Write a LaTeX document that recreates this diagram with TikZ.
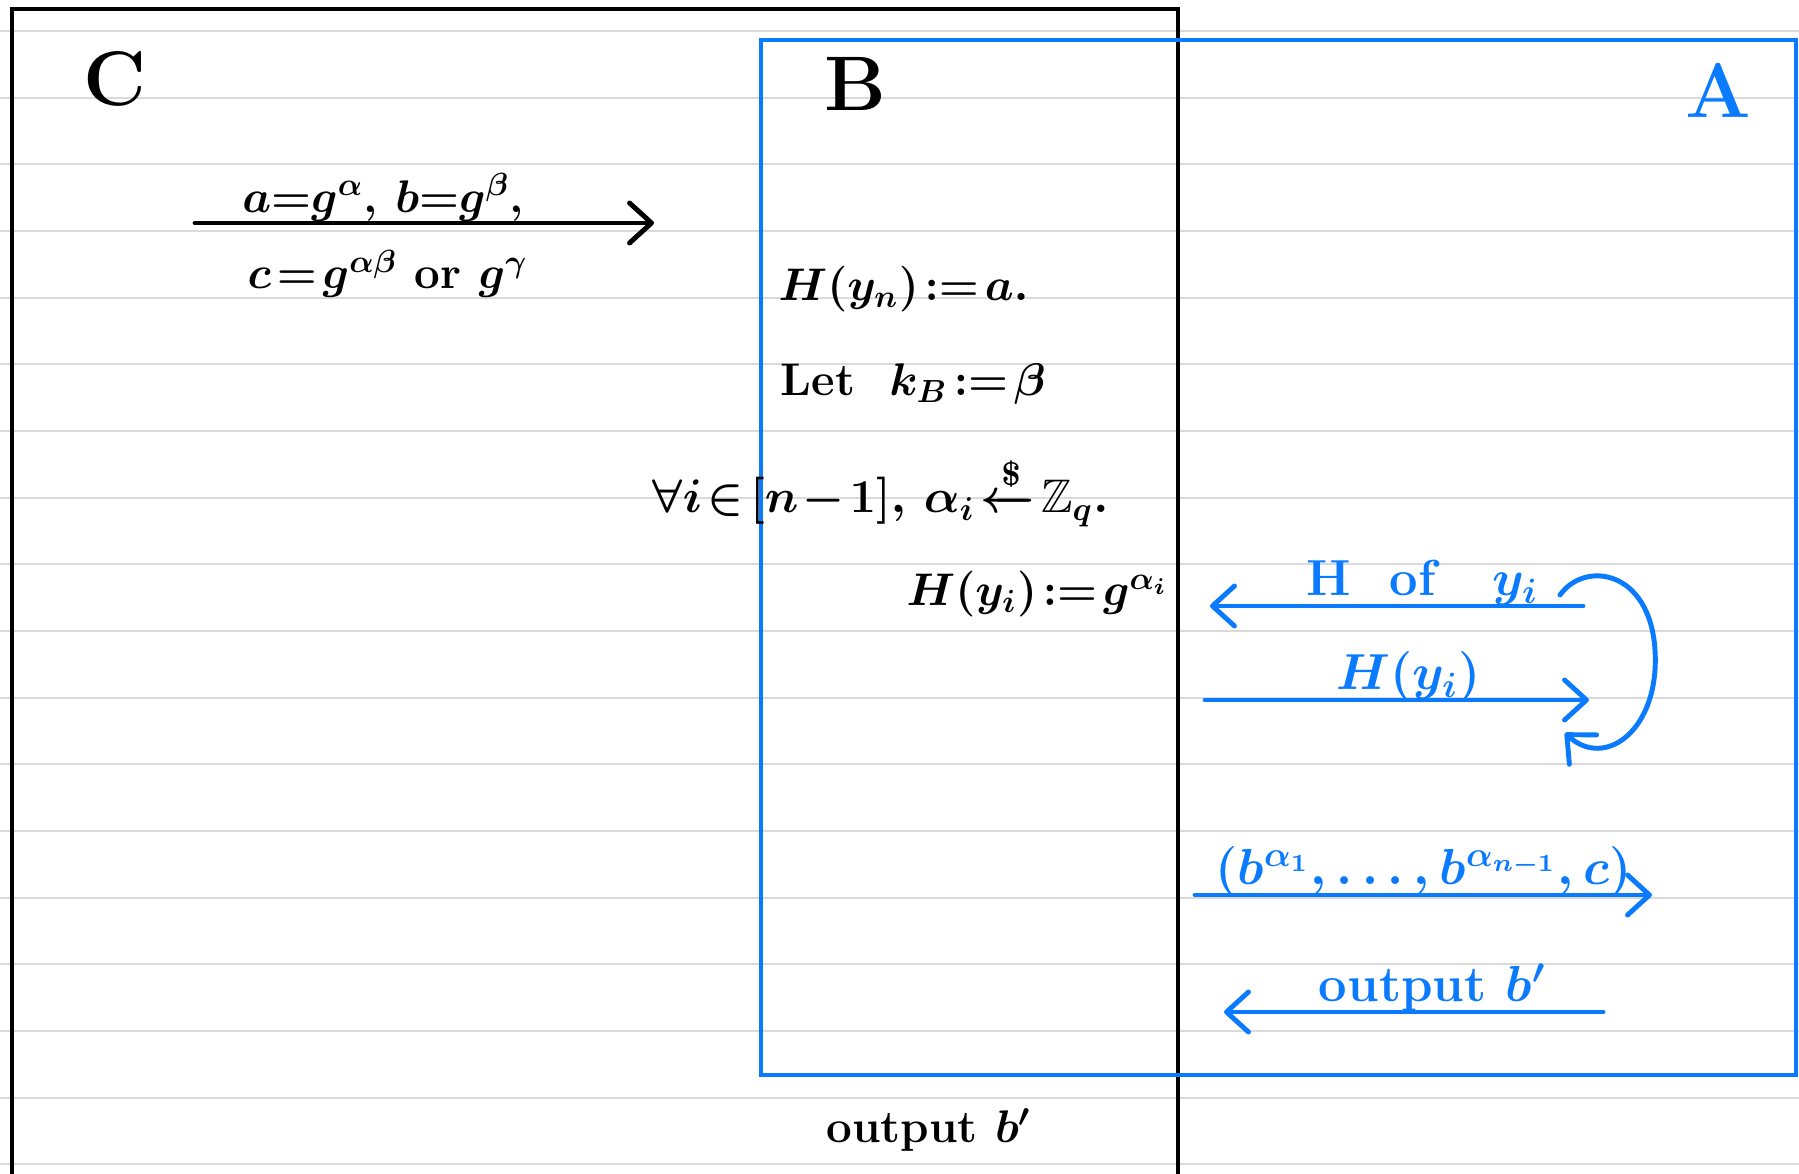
\RequirePackage{fix-cm}
\documentclass[tikz,border=0pt]{standalone}
\usepackage{amsmath,amssymb}
\usepackage{tikz}
\usetikzlibrary{arrows.meta}
\definecolor{pen}{HTML}{0A7AFF}
\definecolor{ruled}{HTML}{DADADA}
\thickmuskip=2mu
\medmuskip=1.5mu
\tikzset{role/.style={font=\fontsize{22}{26}\selectfont\bfseries,inner sep=0pt,anchor=base}, stmt/.style={font=\fontsize{13}{16}\selectfont\bfseries\boldmath,inner sep=0pt,anchor=base west}, msg/.style={-{Straight Barb[length=2.2mm,width=4mm,round]},line width=1.4pt,line cap=round}, tag/.style={font=\fontsize{14.4}{17}\selectfont\bfseries\boldmath,inner sep=0pt,anchor=base,yshift=3pt}, under/.style={font=\fontsize{13}{16}\selectfont\bfseries\boldmath,inner sep=0pt,anchor=north,yshift=-7pt}}

\begin{document}
\begin{tikzpicture}[x=0.01cm,y=-0.01cm]
\useasboundingbox (0,0) rectangle (1799,1174);
\fill[white] (0,0) rectangle (1799,1174);
\foreach \k in {0,...,17} \draw[ruled,line width=0.6pt] (0,31+66.67*\k) -- (1799,31+66.67*\k);
\draw[line width=0.9pt] (12,1174) -- (12,9) -- (1178,9) -- (1178,1174);
\draw[pen,line width=1.2pt] (761,40) rectangle (1796,1075);
\node[role] (chal) at (115,106) {C};
\node[role] (bob) at (855,111) {B};
\node[role,text=pen] (adv) at (1718,118) {A};
\coordinate (c0) at (195,223);
\coordinate (c1) at (654,223);
\draw[msg] (c0) -- node[tag,font=\fontsize{13}{16}\selectfont\bfseries\boldmath,pos=0.41] (ab) {$a{=}g^{\alpha}$,\ $b{=}g^{\beta}$,} node[under,pos=0.42] (cc) {$c=g^{\alpha\beta}$ or $g^{\gamma}$} (c1);
\node[stmt] (hn) at (778,301) {$H(y_n):=a.$};
\node[stmt] (kb) at (780,396) {Let\ \ $k_B:=\beta$};
\node[stmt,font=\fontsize{13.4}{16}\selectfont\bfseries\boldmath] (al) at (652,513) {$\forall i\in[n-1],\,\alpha_i\xleftarrow{\smash{\$}}\mathbb{Z}_q.$};
\node[stmt] (hi) at (906,606) {$H(y_i):=g^{\alpha_i}$};
\coordinate (h0) at (1583,606);
\coordinate (h1) at (1210,606);
\draw[msg,pen] (h0) -- node[tag,text=pen,pos=0.43] (hq) {H\ \ of\ \ \ $y_i$} (h1);
\coordinate (r0) at (1205,700);
\coordinate (r1) at (1589,700);
\draw[msg,pen] (r0) -- node[tag,text=pen,pos=0.53] (hr) {$H(y_i)$} (r1);
\coordinate (l0) at (1560,595);
\coordinate (l1) at (1565,733);
\draw[msg,pen] (l0) .. controls (1585,560) and (1650,570) .. (1655,650) .. controls (1660,730) and (1605,770) .. (l1);
\coordinate (t0) at (1195,895);
\coordinate (t1) at (1652,895);
\draw[msg,pen] (t0) -- node[tag,text=pen,pos=0.5] (tp) {$(b^{\alpha_1},\dots,b^{\alpha_{n-1}},c)$} (t1);
\coordinate (o0) at (1603,1012);
\coordinate (o1) at (1224,1012);
\draw[msg,pen] (o0) -- node[tag,text=pen,pos=0.45] (ob) {output $b'$} (o1);
\node[stmt,anchor=base] (out) at (929,1143) {output $b'$};
\end{tikzpicture}
\end{document}
